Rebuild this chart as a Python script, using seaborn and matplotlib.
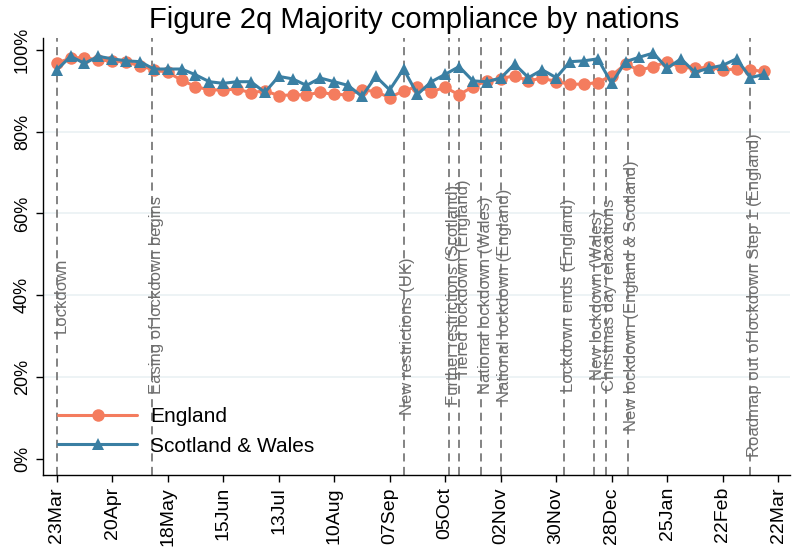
import pandas as pd
import matplotlib
matplotlib.use("Agg")
import matplotlib.pyplot as plt
import matplotlib.dates as mdates
import seaborn as sns

# data (weekly)
weeks = pd.date_range("2020-03-23", periods=52, freq="7D")
england = [96.7, 98.0, 98.1, 97.5, 97.3, 97.0, 96.1, 95.1, 94.5, 92.6,
           91.0, 90.2, 90.2, 90.4, 89.5, 90.0, 88.8, 89.0, 89.0, 89.6,
           89.1, 89.0, 90.2, 89.8, 88.3, 90.0, 91.0, 89.8, 90.8, 89.0,
           91.0, 92.4, 92.9, 93.7, 92.4, 93.1, 92.2, 91.6, 91.6, 92.0,
           93.7, 96.5, 95.0, 95.9, 97.1, 95.7, 95.5, 95.7, 95.1, 95.3,
           95.1, 94.7]
scot_wales = [95.1, 98.4, 96.7, 98.4, 97.8, 97.3, 97.1, 95.3, 95.3, 95.3,
              93.9, 92.2, 91.8, 92.2, 92.2, 89.6, 93.5, 92.9, 91.3, 93.1,
              92.2, 91.3, 88.6, 93.5, 90.2, 95.3, 89.1, 92.2, 94.0, 95.9,
              92.4, 92.2, 93.1, 96.5, 93.2, 95.1, 93.2, 97.1, 97.3, 97.8,
              91.8, 97.1, 98.2, 99.2, 95.5, 97.8, 94.5, 95.5, 96.2, 97.8,
              93.2, 94.0]

event_dates = ["2020-03-23", "2020-05-10", "2020-09-14", "2020-10-07",
               "2020-10-12", "2020-10-23", "2020-11-02", "2020-12-04",
               "2020-12-19", "2020-12-25", "2021-01-05", "2021-03-08"]
event_labels = ["Lockdown", "Easing of lockdown begins", "New restrictions (UK)",
                "Further restrictions (Scotland)", "Tiered lockdown (England)",
                "National lockdown (Wales)", "National lockdown (England)",
                "Lockdown ends (England)", "New lockdown (Wales)",
                "Christmas day relaxations", "New lockdown (England & Scotland)",
                "Roadmap out of lockdown Step 1 (England)"]
event_ypos = [40, 40, 30, 40, 44, 40, 40, 40, 40, 40, 40, 40]

tick_dates = pd.date_range("2020-03-23", "2021-03-22", freq="28D")

ENG_COL = "#F47C5E"
SW_COL = "#3A7FA3"

sns.set_style("white")
plt.rcParams["font.family"] = ["Liberation Sans", "DejaVu Sans"]
plt.rcParams["text.color"] = "black"
plt.rcParams["xtick.color"] = "black"
plt.rcParams["ytick.color"] = "black"

df = pd.DataFrame({"week": weeks, "England": england, "Scotland & Wales": scot_wales})

fig = plt.figure(figsize=(7.94, 5.52), dpi=100)
ax = fig.add_axes([0.054, 0.139, 0.941, 0.793])

for y in [20, 40, 60, 80]:
    ax.axhline(y, color="#EAF1F4", lw=1.2, zorder=0)

for d, lab, yp in zip(event_dates, event_labels, event_ypos):
    d = pd.Timestamp(d)
    ax.axvline(d, color="#7a7a7a", lw=1.3, linestyle=(0, (4.5, 3)), zorder=1)
    ax.annotate(lab, xy=(d, yp), xytext=(3, 0), textcoords="offset points",
                rotation=90, ha="center", va="center", fontsize=12,
                color="#6e6e6e", zorder=2)

sns.lineplot(data=df, x="week", y="England", ax=ax, color=ENG_COL, lw=2.2,
             marker="o", markersize=9, markeredgewidth=0, label="England",
             zorder=3)
sns.lineplot(data=df, x="week", y="Scotland & Wales", ax=ax, color=SW_COL, lw=2.2,
             marker="^", markersize=9, markeredgewidth=0,
             label="Scotland & Wales", zorder=4)

ax.set_xlim(pd.Timestamp("2020-03-16"), pd.Timestamp("2021-03-28"))
ax.set_ylim(-4, 103)
ax.set_yticks([0, 20, 40, 60, 80, 100])
ax.set_yticklabels([f"{v}%" for v in [0, 20, 40, 60, 80, 100]], rotation=90,
                   va="center", fontsize=13)
ax.set_xticks(tick_dates)
ax.xaxis.set_major_formatter(mdates.DateFormatter("%d%b"))
plt.setp(ax.get_xticklabels(), rotation=90, fontsize=14)
ax.tick_params(axis="both", direction="out", length=5, width=1, color="black",
               left=True, bottom=True)
ax.set_xlabel("")
ax.set_ylabel("")

for s in ["top", "right"]:
    ax.spines[s].set_visible(False)
for s in ["left", "bottom"]:
    ax.spines[s].set_color("black")
    ax.spines[s].set_linewidth(1)

ax.legend(loc="lower left", bbox_to_anchor=(0.015, 0.035), frameon=False,
          fontsize=15, handlelength=3.8, handletextpad=0.6, labelspacing=0.5,
          borderaxespad=0, borderpad=0.2)

fig.suptitle("Figure 2q Majority compliance by nations", fontsize=21, y=0.99,
             x=0.522)

fig.savefig("out.png", dpi=100)
